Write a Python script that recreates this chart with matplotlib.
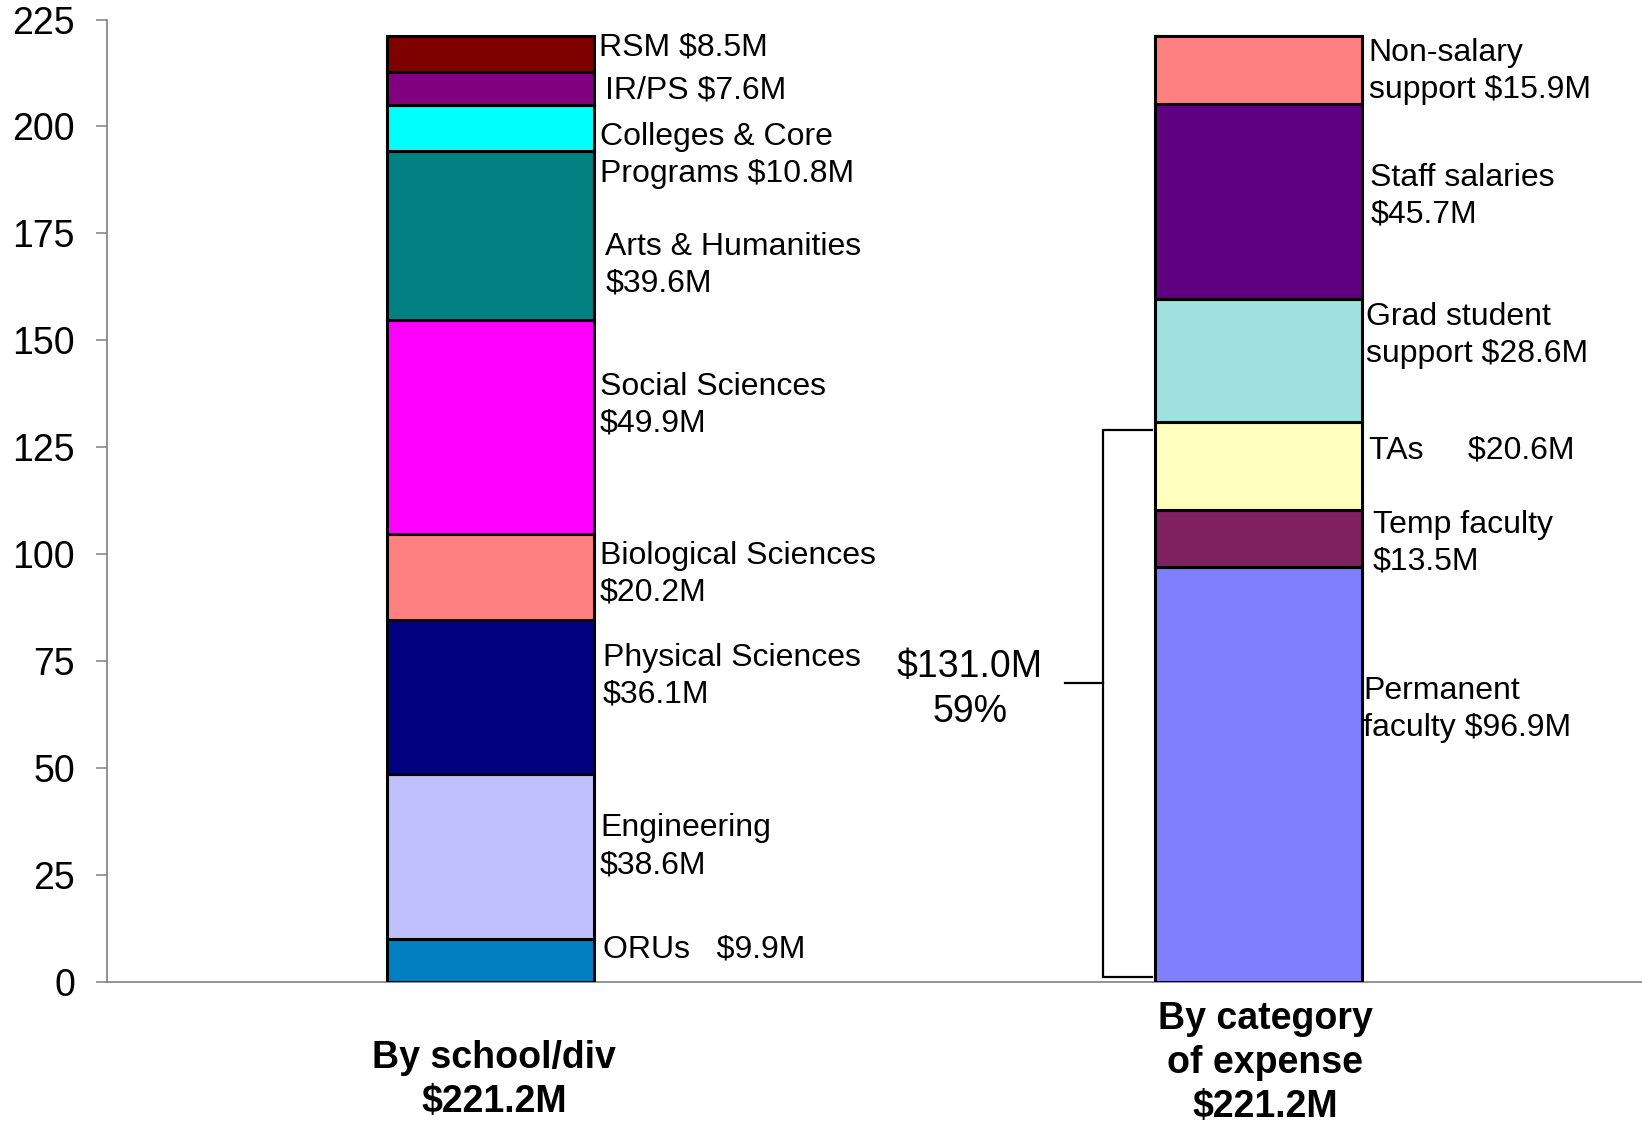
import numpy as np
import matplotlib.pyplot as plt

plt.rcParams['font.family'] = ['Liberation Sans', 'DejaVu Sans']

# budget by school / division, bottom to top ($M)
school_names = ["ORUs", "Engineering", "Physical Sciences", "Biological Sciences",
                "Social Sciences", "Arts & Humanities", "Colleges & Core Programs",
                "IR/PS", "RSM"]
school_vals = [9.9, 38.6, 36.1, 20.2, 49.9, 39.6, 10.8, 7.6, 8.5]
school_labels = ["ORUs   $9.9M", "Engineering\n$38.6M", "Physical Sciences\n$36.1M",
                 "Biological Sciences\n$20.2M", "Social Sciences\n$49.9M",
                 "Arts & Humanities\n$39.6M", "Colleges & Core\nPrograms $10.8M",
                 "IR/PS $7.6M", "RSM $8.5M"]
school_colors = ["#0080C0", "#C0C0FF", "#000080", "#FF8080", "#FF00FF",
                 "#008080", "#00FFFF", "#800080", "#800000"]

# budget by category of expense, bottom to top ($M)
expense_names = ["Permanent faculty", "Temp faculty", "TAs", "Grad student support",
                 "Staff salaries", "Non-salary support"]
expense_vals = [96.9, 13.5, 20.6, 28.6, 45.7, 15.9]
expense_labels = ["Permanent\nfaculty $96.9M", "Temp faculty\n$13.5M", "TAs     $20.6M",
                  "Grad student\nsupport $28.6M", "Staff salaries\n$45.7M",
                  "Non-salary\nsupport $15.9M"]
expense_colors = ["#8080FF", "#802060", "#FFFFC0", "#A0E0E0", "#600080", "#FF8080"]

# label placement: y centre (data units) and x offset from bar edge (points)
school_label_y = [7.6, 31.6, 71.5, 95.3, 134.8, 167.5, 193.2, 208.4, 218.5]
school_label_dx = [6, 4, 6, 4, 4, 8, 4, 8, 3]
expense_label_y = [63.7, 102.6, 124.2, 151.1, 183.7, 212.8]
expense_label_dx = [1, 8, 5, 3, 6, 5]

total = sum(school_vals)
faculty_total = sum(expense_vals[:3])

fig = plt.figure(figsize=(16.42, 11.23), dpi=100)
ax = fig.add_axes([107 / 1642, 0.1258, 1 - 107 / 1642, 0.8568])

width = 0.27
fs = 23


def stack(x, vals, colors, labels, label_y, label_dx):
    bottoms = np.concatenate([[0], np.cumsum(vals)[:-1]])
    ax.bar(x, vals, width, bottom=bottoms, color=colors,
           edgecolor="black", linewidth=2.2, zorder=3)
    for lab, y, dx in zip(labels, label_y, label_dx):
        ax.annotate(lab, xy=(x + width / 2, y), xytext=(dx, 0),
                    textcoords="offset points", ha="left", va="center",
                    fontsize=fs, linespacing=1.3)


stack(0, school_vals, school_colors, school_labels, school_label_y, school_label_dx)
stack(1, expense_vals, expense_colors, expense_labels, expense_label_y, expense_label_dx)

# bracket around the faculty + TA share
bx = 0.7977
bx2 = 1 - width / 2 - 0.003
top = faculty_total - 2
ax.plot([bx2, bx, bx, bx2], [top, top, 1, 1], color="black", lw=1.6,
        solid_joinstyle="miter", zorder=4, clip_on=False)
ax.plot([0.748, bx], [69.8, 69.8], color="black", lw=1.6, zorder=4)
ax.text(0.6244, 68.3, f"${faculty_total:.1f}M\n{faculty_total / total:.0%}",
        ha="center", va="center", fontsize=27, linespacing=1.33)

ax.set_xlim(-0.5, 1.5)
ax.set_ylim(0, 225)
ax.set_yticks(np.arange(0, 226, 25))
ax.set_xticks([])
ax.tick_params(axis="y", direction="out", length=8, width=1.1,
               color="#808080", pad=15, labelsize=27)
for s in ["top", "right"]:
    ax.spines[s].set_visible(False)
for s in ["left", "bottom"]:
    ax.spines[s].set_color("#808080")
    ax.spines[s].set_linewidth(1.2)

fig.text(494 / 1642, 1 - 1080 / 1123, f"By school/div\n${total:.1f}M",
         ha="center", va="center", fontsize=27, fontweight="bold", linespacing=1.29)
fig.text(1265 / 1642, 1 - 1063 / 1123, f"By category\nof expense\n${sum(expense_vals):.1f}M",
         ha="center", va="center", fontsize=27, fontweight="bold", linespacing=1.29)

fig.savefig("out.png", dpi=100)
